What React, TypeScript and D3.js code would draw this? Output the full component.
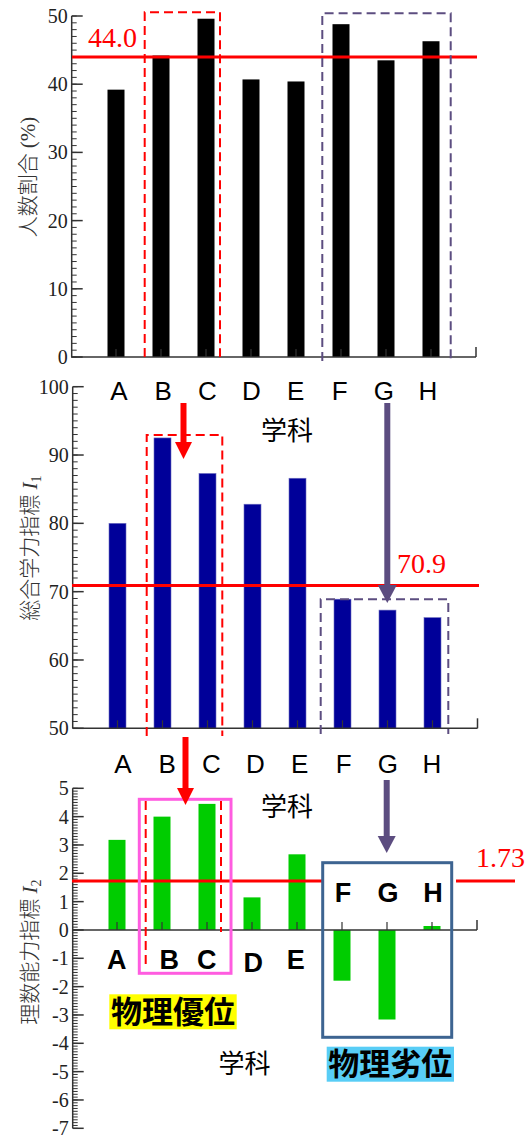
import React from 'react';
import * as d3 from 'd3';

// ---------- data ----------
const categories = ['A', 'B', 'C', 'D', 'E', 'F', 'G', 'H'];
const ratioValues = [39.2, 44.2, 49.6, 40.7, 40.4, 48.8, 43.5, 46.3]; // 人数割合 (%)
const index1Values = [80.0, 92.5, 87.3, 82.8, 86.6, 68.9, 67.3, 66.2]; // 総合学力指標 I1
const index2Values = [3.18, 4.0, 4.45, 1.15, 2.67, -1.79, -3.16, 0.14]; // 理数能力指標 I2
const ratioMean = 44.0;
const index1Mean = 70.9;
const index2Mean = 1.73;
const ratioTicks = [0, 10, 20, 30, 40, 50];
const index1Ticks = [50, 60, 70, 80, 90, 100];
const index2Ticks = [5, 4, 3, 2, 1, 0, -1, -2, -3, -4, -5, -6, -7];
const topBoxLabels = ['F', 'G', 'H'];
const lowerLabels = ['A', 'B', 'C', 'D', 'E'];

const SERIF = "'Liberation Serif', 'DejaVu Serif', serif";
const SANS = "'Liberation Sans', Arial, sans-serif";
const CJK = "'Noto Sans CJK JP', 'Noto Sans CJK SC', sans-serif";
const AXIS = '#333';
const RED = '#ff0000';
const PURPLE = '#5c4d80';

// ---------- scales ----------
const xTop = d3.scaleLinear().domain([0, 9]).range([71, 476]);
const yTop = d3.scaleLinear().domain([0, 50]).range([357, 16]);
const xMid = d3.scaleLinear().domain([0, 9]).range([72.5, 477.5]);
const yMid = d3.scaleLinear().domain([50, 100]).range([728.3, 386.7]);
const xBot = d3.scaleLinear().domain([0, 9]).range([72, 477]);
const yBot = d3.scaleLinear().domain([-7, 5]).range([1128.3, 788.3]);

const labelTopRow = d3.scalePoint<string>().domain(categories).range([119, 428]);
const labelMidRow = d3.scalePoint<string>().domain(categories).range([123, 432]);

const BAR_W = 17;

function YAxis({ y, x, majors, minorCount, minorStep, lo }: any) {
  const [d0, d1] = y.domain();
  const minors = d3.range(0, minorCount + 1).map((k: number) => lo + k * minorStep);
  return (
    <g>
      <line x1={x} x2={x} y1={y(d0)} y2={y(d1)} stroke={AXIS} strokeWidth={1.5} />
      {minors.map((v: number, i: number) => (
        <line key={'m' + i} x1={x} x2={x + 5} y1={y(v)} y2={y(v)} stroke={AXIS} strokeWidth={1} />
      ))}
      {majors.map((v: number) => (
        <g key={'M' + v}>
          <line x1={x} x2={x + 11} y1={y(v)} y2={y(v)} stroke={AXIS} strokeWidth={1.5} />
          <text x={x - 4} y={y(v)} dy="0.35em" textAnchor="end" fontFamily={SERIF} fontSize={20} fill="#222">
            {String(v)}
          </text>
        </g>
      ))}
    </g>
  );
}

function XAxis({ x, y0 }: any) {
  const [r0, r1] = x.range();
  return (
    <g>
      <line x1={r0} x2={r1} y1={y0} y2={y0} stroke={AXIS} strokeWidth={1.5} />
      {categories.map((c, i) => (
        <line key={c} x1={x(i + 1)} x2={x(i + 1)} y1={y0} y2={y0 - 8} stroke={AXIS} strokeWidth={1.2} />
      ))}
      <line x1={r1} x2={r1} y1={y0} y2={y0 - 10} stroke={AXIS} strokeWidth={1.5} />
    </g>
  );
}

function Arrow({ x, y1, y2, color, shaft, headW, headH }: any) {
  const p = `M${x - headW / 2},${y2 - headH} L${x + headW / 2},${y2 - headH} L${x},${y2} Z`;
  return (
    <g>
      <line x1={x} x2={x} y1={y1} y2={y2 - headH + 1} stroke={color} strokeWidth={shaft} />
      <path d={p} fill={color} />
    </g>
  );
}

function OpenBox({ x0, x1, y0, y1, color }: any) {
  return (
    <path
      d={`M${x0},${y1} L${x0},${y0} L${x1},${y0} L${x1},${y1}`}
      fill="none"
      stroke={color}
      strokeWidth={2}
      strokeDasharray="9,5"
    />
  );
}

function YLabel({ cx, cy, main, tail }: any) {
  return (
    <text transform={`translate(${cx},${cy}) rotate(-90)`} textAnchor="middle" dy="0.35em" fill="#333" fontSize={21}>
      <tspan fontFamily={CJK} fontWeight={300}>{main}</tspan>
      {tail}
    </text>
  );
}

export default function App() {
  const baseTop = yTop(0);
  const baseMid = yMid(50);
  const zeroBot = yBot(0);
  return (
    <svg width={527} height={1135} style={{ position: 'absolute', left: 0, top: 0, background: '#fff' }}>
      <rect x={0} y={0} width={527} height={1135} fill="#fff" />

      {/* ---------------- top chart ---------------- */}
      <YLabel cx={28} cy={177} main="人数割合" tail={<tspan fontFamily={SERIF}> (%)</tspan>} />
      {ratioValues.map((v, i) => (
        <rect key={i} x={xTop(i + 1) - BAR_W / 2} y={yTop(v)} width={BAR_W} height={baseTop - yTop(v)} fill="#000" />
      ))}
      <YAxis y={yTop} x={71.7} majors={ratioTicks} minorCount={50} minorStep={1} lo={0} />
      <XAxis x={xTop} y0={baseTop} />
      <line x1={72} x2={477} y1={yTop(ratioMean)} y2={yTop(ratioMean)} stroke={RED} strokeWidth={3} />
      <text x={88} y={47} fontFamily={SERIF} fontSize={28} fill={RED}>{ratioMean.toFixed(1)}</text>
      <OpenBox x0={144.7} x1={220} y0={12.3} y1={357} color={RED} />
      <OpenBox x0={322.3} x1={450.7} y0={13.3} y1={361} color={PURPLE} />

      {/* labels between top and middle */}
      {categories.map((c) => (
        <text key={'t' + c} x={labelTopRow(c)} y={400} textAnchor="middle" fontFamily={SANS} fontSize={26} fill="#000">{c}</text>
      ))}
      <text x={287} y={440} textAnchor="middle" fontFamily={CJK} fontSize={26} fill="#000">学科</text>

      {/* ---------------- middle chart ---------------- */}
      <YLabel
        cx={30}
        cy={548}
        main="総合学力指標"
        tail={
          <tspan fontFamily={SERIF}>
            {' '}
            <tspan fontStyle="italic">I</tspan>
            <tspan fontSize={14} dy={4}>1</tspan>
          </tspan>
        }
      />
      {index1Values.map((v, i) => (
        <rect key={i} x={xMid(i + 1) - BAR_W / 2} y={yMid(v)} width={BAR_W} height={baseMid - yMid(v)} fill="#000099" stroke="#6d6dc0" strokeWidth={0.6} />
      ))}
      <YAxis y={yMid} x={72.7} majors={index1Ticks} minorCount={50} minorStep={1} lo={50} />
      <XAxis x={xMid} y0={baseMid} />
      <line x1={72} x2={479} y1={yMid(index1Mean)} y2={yMid(index1Mean)} stroke={RED} strokeWidth={3} />
      <text x={397} y={573} fontFamily={SERIF} fontSize={28} fill={RED}>{index1Mean.toFixed(1)}</text>
      <OpenBox x0={146.7} x1={222.3} y0={435} y1={736} color={RED} />
      <OpenBox x0={320.7} x1={448.3} y0={599.3} y1={734} color={PURPLE} />
      <Arrow x={183.5} y1={403} y2={459} color={RED} shaft={6} headW={17} headH={17} />
      <Arrow x={387.3} y1={403} y2={603} color={PURPLE} shaft={6} headW={19} headH={18} />

      {/* labels between middle and bottom */}
      {categories.map((c) => (
        <text key={'m' + c} x={labelMidRow(c)} y={773} textAnchor="middle" fontFamily={SANS} fontSize={26} fill="#000">{c}</text>
      ))}
      <text x={287} y={816} textAnchor="middle" fontFamily={CJK} fontSize={26} fill="#000">学科</text>

      {/* ---------------- bottom chart ---------------- */}
      <YLabel
        cx={30}
        cy={952}
        main="理数能力指標"
        tail={
          <tspan fontFamily={SERIF}>
            {' '}
            <tspan fontStyle="italic">I</tspan>
            <tspan fontSize={14} dy={4}>2</tspan>
          </tspan>
        }
      />
      {index2Values.map((v, i) => (
        <rect
          key={i}
          x={xBot(i + 1) - BAR_W / 2}
          y={Math.min(yBot(v), zeroBot)}
          width={BAR_W}
          height={Math.abs(yBot(v) - zeroBot)}
          fill="#00cc00"
        />
      ))}
      <YAxis y={yBot} x={72.7} majors={index2Ticks} minorCount={120} minorStep={0.1} lo={-7} />
      <XAxis x={xBot} y0={zeroBot} />
      <line x1={72} x2={323} y1={yBot(index2Mean)} y2={yBot(index2Mean)} stroke={RED} strokeWidth={3} />
      <line x1={456} x2={515} y1={yBot(index2Mean)} y2={yBot(index2Mean)} stroke={RED} strokeWidth={3} />
      <text x={476} y={867} fontFamily={SERIF} fontSize={28} fill={RED}>{index2Mean.toFixed(2)}</text>

      <line x1={145.7} x2={145.7} y1={801} y2={968} stroke={RED} strokeWidth={2} strokeDasharray="9,5" />
      <line x1={221} x2={221} y1={801} y2={932} stroke={RED} strokeWidth={2} strokeDasharray="9,5" />
      <rect x={139.3} y={799.3} width={91.7} height={174} fill="none" stroke="#ff5ce0" strokeWidth={3} />
      <rect x={322.7} y={862.7} width={129} height={174.6} fill="none" stroke="#3d6491" strokeWidth={3} />

      <Arrow x={185.5} y1={737} y2={805} color={RED} shaft={6} headW={17} headH={17} />
      <Arrow x={386.7} y1={780} y2={853} color={PURPLE} shaft={6} headW={18} headH={17} />

      {topBoxLabels.map((c) => (
        <text key={'b' + c} x={xBot(categories.indexOf(c) + 1) + 1} y={902} textAnchor="middle" fontFamily={SANS} fontWeight="bold" fontSize={27} fill="#000">{c}</text>
      ))}
      {lowerLabels.map((c, i) => (
        <text
          key={'l' + c}
          x={[116.7, 169.3, 206.7, 253.3, 295.7][i]}
          y={c === 'D' ? 972 : 969}
          textAnchor="middle"
          fontFamily={SANS}
          fontWeight="bold"
          fontSize={27}
          fill="#000"
        >
          {c}
        </text>
      ))}

      <rect x={109.3} y={994.3} width={127.4} height={35} fill="#ffff00" />
      <text x={173} y={1023} textAnchor="middle" fontFamily={CJK} fontWeight="bold" fontSize={31} fill="#000">物理優位</text>
      <rect x={326.7} y={1046.7} width={127.3} height={35} fill="#58cdf6" />
      <text x={390.3} y={1075} textAnchor="middle" fontFamily={CJK} fontWeight="bold" fontSize={31} fill="#000">物理劣位</text>
      <text x={244.5} y={1073} textAnchor="middle" fontFamily={CJK} fontSize={26} fill="#000">学科</text>
    </svg>
  );
}
